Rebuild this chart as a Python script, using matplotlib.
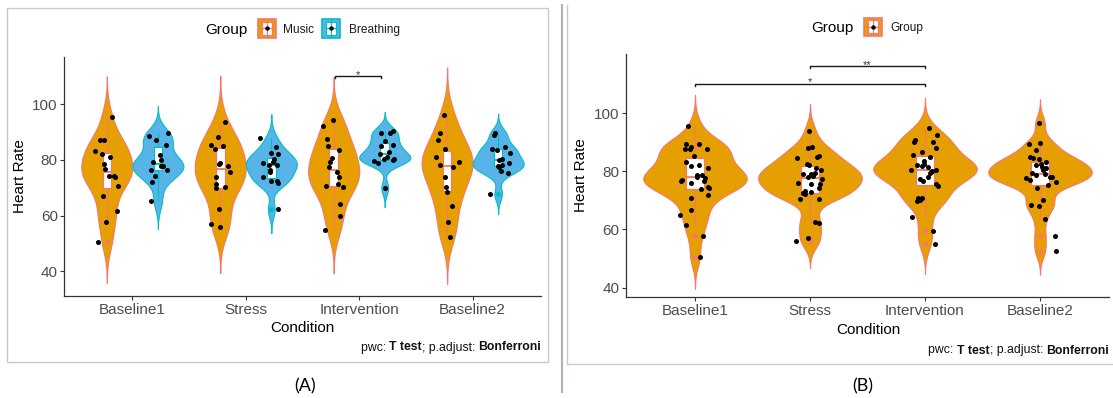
import numpy as np
import matplotlib
matplotlib.use('Agg')
from matplotlib import pyplot as plt
from matplotlib.patches import Rectangle

plt.rcParams['font.family'] = ['Liberation Sans', 'DejaVu Sans']

conditions = ['Baseline1', 'Stress', 'Intervention', 'Baseline2']
y_ticks = [40, 60, 80, 100]

# (A) heart rate per participant, one list per condition
music_hr = [
    [95.3, 87.3, 87.3, 83.3, 82.3, 81.1, 78.5, 76.8, 74.4, 74.2, 74.0, 70.8, 66.9, 61.5, 57.7, 50.5],
    [93.7, 88.4, 85.2, 84.1, 85.1, 78.9, 78.6, 77.9, 75.7, 74.0, 71.4, 69.8, 70.1, 62.5, 56.9, 55.9],
    [94.5, 92.1, 87.6, 84.9, 83.4, 80.7, 79.1, 77.3, 75.5, 73.7, 71.2, 70.5, 70.3, 64.2, 59.8, 54.7],
    [96.3, 89.7, 87.1, 83.8, 80.9, 79.1, 78.1, 77.5, 74.0, 70.1, 68.4, 63.4, 57.7, 52.4],
]
music_jit = [
    [0.044, -0.059, -0.021, -0.1, -0.047, 0.032, -0.024, -0.018, 0.021, 0.059, 0.074, 0.097, -0.035, 0.091, -0.006, -0.076],
    [0.044, -0.019, -0.085, -0.047, 0.028, 0.0, -0.01, 0.072, 0.082, -0.038, -0.041, -0.041, 0.041, -0.013, -0.079, -0.006],
    [-0.01, -0.092, -0.063, -0.054, 0.043, -0.019, -0.034, -0.045, 0.025, 0.047, 0.04, -0.069, 0.078, 0.055, 0.052, -0.078],
    [-0.028, -0.066, -0.081, -0.022, -0.099, 0.101, -0.064, 0.051, -0.019, -0.008, 0.001, 0.042, 0.007, 0.028],
]
breath_hr = [
    [89.5, 88.5, 87.3, 85.5, 81.7, 79.8, 79.1, 77.9, 77.8, 76.4, 76.2, 74.3, 72.0, 65.1],
    [87.9, 84.7, 82.4, 82.1, 80.3, 79.3, 79.0, 78.3, 78.0, 76.5, 75.7, 73.7, 72.3, 72.4, 71.8, 62.2],
    [90.3, 89.8, 89.6, 86.7, 85.2, 85.1, 82.8, 82.0, 81.1, 80.5, 80.3, 79.8, 79.6, 79.0, 69.9],
    [89.5, 88.8, 84.7, 84.1, 83.4, 82.6, 80.5, 79.8, 78.9, 78.0, 77.9, 77.4, 75.9, 75.3, 67.7],
]
breath_jit = [
    [0.085, -0.082, -0.015, 0.071, 0.021, 0.03, -0.041, 0.026, 0.047, 0.079, -0.059, -0.024, -0.056, -0.062],
    [-0.1, 0.038, 0.0, 0.06, 0.025, 0.019, -0.075, 0.053, -0.016, -0.013, -0.009, -0.072, -0.006, 0.05, 0.063, 0.057],
    [0.069, 0.05, -0.036, 0.002, 0.069, -0.036, 0.035, -0.041, 0.019, -0.006, 0.082, 0.069, -0.094, -0.057, 0.0],
    [-0.028, -0.04, 0.06, -0.052, -0.008, 0.101, 0.034, 0.01, 0.098, 0.03, 0.0, 0.01, 0.028, 0.089, -0.072],
]

# (B) both groups pooled
pooled_hr = [
    [95.4, 89.5, 89.5, 88.5, 87.5, 87.5, 87.5, 85.1, 83.1, 82.2, 81.8, 81.1, 78.8, 78.6, 78.2,
     77.7, 77.1, 76.7, 76.5, 76.1, 74.6, 74.2, 73.9, 71.9, 70.8, 66.7, 65.1, 61.7, 57.7, 50.5],
    [93.8, 88.3, 88.0, 85.3, 85.0, 84.6, 82.4, 82.1, 81.0, 80.3, 79.5, 79.1, 78.9, 78.5, 78.0,
     77.2, 76.1, 75.8, 75.6, 74.2, 73.3, 72.9, 72.6, 72.1, 70.6, 70.4, 62.6, 62.3, 57.0, 56.0],
    [95.0, 92.4, 90.6, 90.2, 90.0, 88.0, 86.6, 85.6, 84.9, 83.5, 82.6, 82.2, 81.8, 81.3, 80.6,
     80.4, 80.2, 79.6, 79.4, 78.0, 77.2, 76.5, 75.5, 74.8, 70.9, 70.8, 70.2, 69.8, 64.4, 59.5, 54.9],
    [96.5, 89.8, 89.4, 87.2, 84.9, 84.5, 84.1, 83.2, 82.6, 82.2, 81.6, 81.0, 80.4, 79.3, 78.9,
     78.8, 78.2, 77.9, 77.6, 77.0, 76.3, 75.2, 74.4, 70.2, 68.5, 68.0, 63.5, 57.8, 52.7],
]
pooled_jit = [
    [-0.064, -0.081, 0.035, -0.032, -0.046, -0.087, 0.101, -0.009, -0.078, 0.038, -0.035, 0.116, 0.014, 0.058, 0.02,
     0.087, -0.11, -0.119, 0.075, -0.035, 0.113, 0.125, 0.049, 0.113, -0.038, -0.032, -0.13, -0.081, 0.072, 0.043],
    [-0.006, 0.017, -0.014, 0.078, 0.064, -0.11, -0.029, -0.006, 0.05, 0.096, 0.04, -0.061, 0.006, 0.03, -0.02,
     0.107, -0.107, 0.09, 0.009, 0.081, -0.04, 0.01, -0.065, -0.046, 0.075, -0.087, 0.041, 0.075, -0.02, -0.125],
    [0.038, 0.104, -0.09, 0.072, -0.1, 0.096, -0.029, -0.104, 0.046, -0.005, -0.01, -0.067, -0.03, 0.025, 0.093,
     -0.125, 0.06, 0.052, 0.042, 0.03, -0.046, -0.02, 0.093, 0.116, -0.058, -0.029, -0.045, -0.072, -0.116, 0.072, 0.09],
    [-0.009, 0.0, -0.1, -0.038, -0.084, -0.06, -0.013, 0.049, 0.01, -0.037, 0.02, 0.056, 0.03, -0.07, 0.04,
     -0.033, 0.09, 0.104, -0.125, -0.09, 0.137, 0.07, -0.023, 0.027, -0.08, -0.006, 0.043, 0.133, 0.139],
]

# significance brackets
brackets_a = [('Intervention', 110.1, '*')]
brackets_b = [('Stress', 'Intervention', 116.2, '**'), ('Baseline1', 'Intervention', 110.1, '*')]

MUSIC_FILL, MUSIC_LINE = '#E69F00', '#F8766D'
BREATH_FILL, BREATH_LINE = '#56B4E9', '#00BFC4'
TICK_GREY = '#4D4D4D'


def nrd0(x):
    q75, q25 = np.percentile(x, [75, 25])
    return 0.9 * min(np.std(x, ddof=1), (q75 - q25) / 1.34) * len(x) ** -0.2


def violin(ax, x0, vals, half, fill, edge):
    vals = np.asarray(vals)
    bw = nrd0(vals)
    ys = np.linspace(vals.min() - 3 * bw, vals.max() + 3 * bw, 512)
    dens = np.exp(-0.5 * ((ys[:, None] - vals[None, :]) / bw) ** 2).sum(axis=1)
    w = dens / dens.max() * half
    ax.fill_betweenx(ys, x0 - w, x0 + w, facecolor=fill, edgecolor=edge, linewidth=0.8, zorder=1)


def box(ax, x0, vals, width, edge):
    vals = np.asarray(vals)
    q1, med, q3 = np.percentile(vals, [25, 50, 75])
    iqr = q3 - q1
    keep = (vals >= q1 - 1.5 * iqr) & (vals <= q3 + 1.5 * iqr)
    ax.vlines(x0, vals[keep].min(), q1, color=edge, lw=0.8, zorder=2)
    ax.vlines(x0, q3, vals[keep].max(), color=edge, lw=0.8, zorder=2)
    ax.add_patch(Rectangle((x0 - width / 2, q1), width, q3 - q1, facecolor='white',
                           edgecolor=edge, lw=0.8, zorder=3))
    ax.hlines(med, x0 - width / 2, x0 + width / 2, color=edge, lw=1.3, zorder=4)
    out = vals[~keep]
    ax.scatter(np.full(len(out), x0), out, s=13, color=edge, lw=0, zorder=4)


def points(ax, x0, vals, jit):
    ax.scatter(x0 + np.asarray(jit), vals, s=13, color='black', lw=0, zorder=5)


def bracket(ax, x1, x2, y, label):
    ax.plot([x1, x1, x2, x2], [y - 0.8, y, y, y - 0.8], color='#1a1a1a', lw=1.0, zorder=6)
    ax.annotate(label, ((x1 + x2) / 2, y), xytext=(0, -1.2), textcoords='offset points',
                ha='center', va='baseline', fontsize=8, color='#333333')


def style(ax, ylim):
    ax.set_xlim(0.4, 4.6)
    ax.set_ylim(*ylim)
    ax.set_facecolor('none')
    for s in ['top', 'right']:
        ax.spines[s].set_visible(False)
    for s in ['left', 'bottom']:
        ax.spines[s].set_color('#333333')
        ax.spines[s].set_linewidth(0.9)
    ax.set_xticks(range(1, 5))
    ax.set_xticklabels(conditions)
    ax.set_yticks(y_ticks)
    ax.tick_params(axis='both', labelsize=11, labelcolor=TICK_GREY, color='#333333',
                   length=3.2, width=0.8)
    ax.tick_params(axis='x', pad=1.8)
    ax.tick_params(axis='y', pad=1.5)
    ax.set_xlabel('Condition', fontsize=11)
    ax.set_ylabel('Heart Rate', fontsize=11)
    ax.xaxis.label.set_va('center')
    ax.yaxis.label.set_va('center')


fig = plt.figure(figsize=(11.13, 3.98), dpi=100)

# page decoration in pixel coordinates
ov = fig.add_axes([0, 0, 1, 1])
ov.set_xlim(0, 1113)
ov.set_ylim(398, 0)
ov.axis('off')
ov.add_patch(Rectangle((7, 7.7), 540.5, 354.6, fill=False, edgecolor='#C8C8C8', lw=1.0))
ov.plot([567.3, 567.3, 1113], [5, 364, 364], color='#C8C8C8', lw=1.0)
ov.plot([561.7, 561.7], [5, 392], color='#A9B0C0', lw=1.5)
ov.text(305, 386, '(A)', fontsize=13, family='Lato', ha='center', va='center')
ov.text(863, 386, '(B)', fontsize=13, family='Lato', ha='center', va='center')


def legend_key(x, y, fill, edge):
    ov.add_patch(Rectangle((x, y), 18, 18.5, facecolor=fill, edgecolor=edge, lw=1.2))
    ov.plot([x + 9, x + 9], [y + 1, y + 17.5], color=edge, lw=0.8)
    ov.add_patch(Rectangle((x + 4, y + 2.7), 10, 13, facecolor='white', edgecolor=edge, lw=0.8))
    ov.plot([x + 4, x + 14], [y + 9.2, y + 9.2], color=edge, lw=1.0)
    ov.scatter([x + 9], [y + 9.2], s=10, color='black', lw=0, zorder=5)


ov.text(205, 30, 'Group', fontsize=11, ha='left', va='center')
legend_key(257.7, 19, MUSIC_FILL, MUSIC_LINE)
ov.text(282.7, 30, 'Music', fontsize=8.6, ha='left', va='center', color='#1a1a1a')
legend_key(322.3, 19, BREATH_FILL, BREATH_LINE)
ov.text(349.3, 30, 'Breathing', fontsize=8.6, ha='left', va='center', color='#1a1a1a')

ov.text(811.7, 28, 'Group', fontsize=11, ha='left', va='center')
legend_key(864.3, 17.7, MUSIC_FILL, MUSIC_LINE)
ov.text(890.7, 28, 'Group', fontsize=8.6, ha='left', va='center', color='#1a1a1a')

renderer = fig.canvas.get_renderer()


def caption(x_right, y):
    parts = [('pwc: ', 'normal'), ('T test', 'bold'), ('; p.adjust: ', 'normal'), ('Bonferroni', 'bold')]
    for txt, weight in reversed(parts):
        t = ov.text(x_right, y, txt, fontsize=8.8, fontweight=weight, ha='right', va='baseline', color='#111111')
        x_right -= t.get_window_extent(renderer=renderer).width


caption(541.3, 350.5)
caption(1109, 353.5)

# panel A
ax_a = fig.add_axes([64.3 / 1113, (398 - 295.7) / 398, 476.4 / 1113, 239 / 398])
for i in range(4):
    for vals, jit, dx, fill, edge in [(music_hr[i], music_jit[i], -0.225, MUSIC_FILL, MUSIC_LINE),
                                      (breath_hr[i], breath_jit[i], 0.225, BREATH_FILL, BREATH_LINE)]:
        x0 = i + 1 + dx
        violin(ax_a, x0, vals, 0.225, fill, edge)
        box(ax_a, x0, vals, 0.075, edge)
        points(ax_a, x0, vals, jit)
for cond, y, label in brackets_a:
    c = conditions.index(cond) + 1
    bracket(ax_a, c - 0.21, c + 0.19, y, label)
style(ax_a, (31.2, 117.1))
ax_a.xaxis.set_label_coords(0.499, -0.135)
ax_a.yaxis.set_label_coords(-0.092, 0.5)

# panel B
ax_b = fig.add_axes([626 / 1113, (398 - 296.7) / 398, 483 / 1113, 242.4 / 398])
for i in range(4):
    violin(ax_b, i + 1, pooled_hr[i], 0.45, MUSIC_FILL, MUSIC_LINE)
    box(ax_b, i + 1, pooled_hr[i], 0.15, MUSIC_LINE)
    points(ax_b, i + 1, pooled_hr[i], pooled_jit[i])
for c1, c2, y, label in brackets_b:
    bracket(ax_b, conditions.index(c1) + 1, conditions.index(c2) + 1, y, label)
style(ax_b, (36.9, 120.2))
ax_b.xaxis.set_label_coords(0.501, -0.137)
ax_b.yaxis.set_label_coords(-0.093, 0.5)

fig.savefig('out.png', dpi=100)
